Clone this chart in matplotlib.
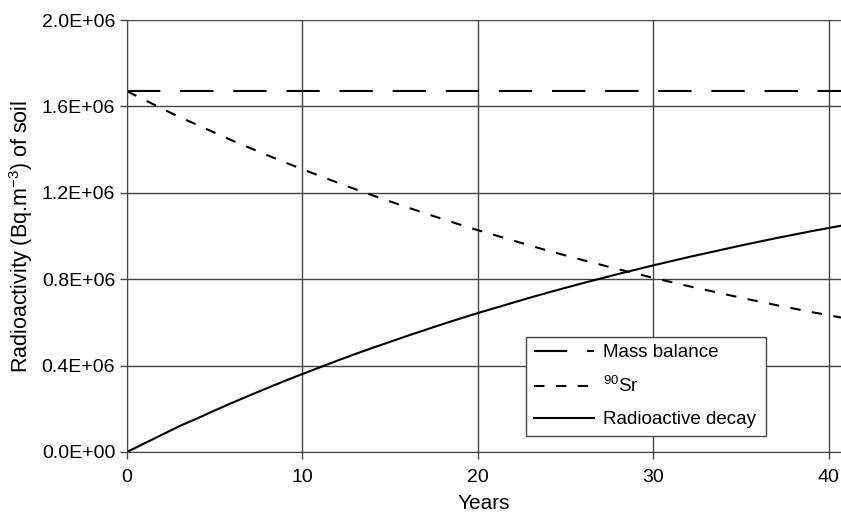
import numpy as np
import matplotlib
matplotlib.use("Agg")
import matplotlib.pyplot as plt

plt.rcParams['font.family'] = ['Liberation Sans', 'DejaVu Sans']
plt.rcParams['mathtext.fontset'] = 'custom'
plt.rcParams['mathtext.rm'] = 'Liberation Sans'
plt.rcParams['mathtext.it'] = 'Liberation Sans'

# values (Bq.m-3), yearly
years = list(range(0, 42))
mass_balance = [1.67e6] * 42
sr90 = [1.670, 1.630, 1.590, 1.550, 1.515, 1.478, 1.442, 1.408, 1.374, 1.341,
        1.309, 1.278, 1.247, 1.217, 1.188, 1.160, 1.132, 1.105, 1.078, 1.052,
        1.027, 1.003, 0.979, 0.955, 0.932, 0.910, 0.888, 0.867, 0.846, 0.826,
        0.806, 0.787, 0.768, 0.750, 0.732, 0.714, 0.697, 0.680, 0.664, 0.648,
        0.633, 0.618]
decay = [0.000, 0.040, 0.080, 0.120, 0.155, 0.192, 0.228, 0.262, 0.296, 0.329,
         0.361, 0.392, 0.423, 0.453, 0.482, 0.510, 0.538, 0.565, 0.592, 0.618,
         0.643, 0.667, 0.691, 0.715, 0.738, 0.760, 0.782, 0.803, 0.824, 0.844,
         0.864, 0.883, 0.902, 0.920, 0.938, 0.956, 0.973, 0.990, 1.006, 1.022,
         1.037, 1.052]
sr90 = np.array(sr90) * 1e6
decay = np.array(decay) * 1e6

yticks = [0, 0.4e6, 0.8e6, 1.2e6, 1.6e6, 2.0e6]
ytick_labels = ["0.0E+00", "0.4E+06", "0.8E+06", "1.2E+06", "1.6E+06", "2.0E+06"]
xticks = [0, 10, 20, 30, 40]

fig = plt.figure(figsize=(8.41, 5.13), dpi=100)
ax = fig.add_axes([0.151, 0.119, 0.849, 0.842])

ax.plot(years, mass_balance, color="black", lw=1.5, dashes=(16, 9.5),
        label="Mass balance")
ax.plot(years, sr90, color="black", lw=1.5, dashes=(5, 5.5),
        label="$^{90}$Sr")
ax.plot(years, decay, color="black", lw=1.5, label="Radioactive decay")

ax.set_xlim(0, 40.7)
ax.set_ylim(0, 2.0e6)
ax.set_xticks(xticks)
ax.set_yticks(yticks)
ax.set_yticklabels(ytick_labels)
ax.tick_params(labelsize=14, length=5, width=1, color="#444444")
ax.tick_params(axis="x", pad=7)
ax.grid(True, color="#444444", lw=1)
ax.set_axisbelow(True)
for s in ["top", "right"]:
    ax.spines[s].set_visible(False)
for s in ["left", "bottom"]:
    ax.spines[s].set_color("#444444")

ax.set_xlabel("Years", fontsize=15, labelpad=6)
ax.set_ylabel("Radioactivity (Bq.m$^{-3}$) of soil", fontsize=15.5, labelpad=5)

leg = ax.legend(loc="lower left", bbox_to_anchor=(0.559, 0.037, 0.336, 0.236),
                mode="expand", fontsize=13.5, fancybox=False, handlelength=3.2,
                handletextpad=0.5, borderaxespad=0, framealpha=1,
                labelspacing=0.8)
leg.get_frame().set_edgecolor("#444444")
leg.get_frame().set_linewidth(1)

fig.savefig("out.png", dpi=100)
